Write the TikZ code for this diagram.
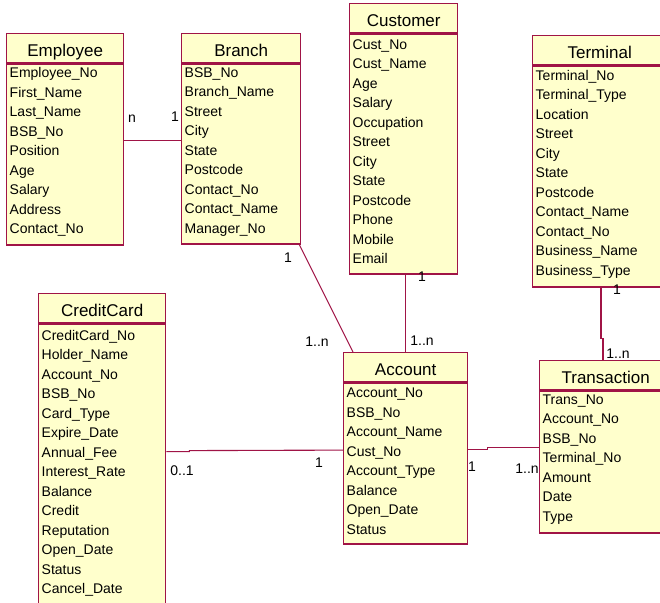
\documentclass[tikz,border=0pt]{standalone}
\usepackage{fontspec}
\setmainfont{Liberation Sans}
\usetikzlibrary{positioning}

\definecolor{umlred}{RGB}{160,20,70}
\definecolor{umlfill}{RGB}{255,255,204}

\begin{document}
\begin{tikzpicture}[x=1pt,y=-1pt,
	classhead/.style={draw=umlred, fill=umlfill, line width=1.4pt, anchor=north west,
		inner sep=0pt, minimum height=29pt, text height=16pt, text depth=0pt,
		font=\fontsize{17}{20}\selectfont},
	classattr/.style={draw=umlred, fill=umlfill, line width=1.4pt, inner xsep=3pt,
		inner ysep=0pt, align=left, font=\fontsize{14}{19.5}\selectfont,
		execute at end node={\endgraf\kern5pt}},
	assoc/.style={draw=umlred, line width=1.1pt},
	mult/.style={inner sep=0pt, font=\fontsize{14}{16}\selectfont}]

	\useasboundingbox (0,0) rectangle (660,602);

	% classes
	\node[classhead, minimum width=117pt] (employee) at (6,33) {Employee};
	\node[classattr, text width=111pt, minimum height=181pt, below=0pt of employee] (employee-attr)
		{Employee\_No\\First\_Name\\Last\_Name\\BSB\_No\\Position\\Age\\Salary\\Address\\Contact\_No};

	\node[classhead, minimum width=119pt] (branch) at (181,33) {Branch};
	\node[classattr, text width=113pt, minimum height=180pt, below=0pt of branch] (branch-attr)
		{BSB\_No\\Branch\_Name\\Street\\City\\State\\Postcode\\Contact\_No\\Contact\_Name\\Manager\_No};

	\node[classhead, minimum width=108pt] (customer) at (349,3) {Customer};
	\node[classattr, text width=102pt, minimum height=240pt, below=0pt of customer] (customer-attr)
		{Cust\_No\\Cust\_Name\\Age\\Salary\\Occupation\\Street\\City\\State\\Postcode\\Phone\\Mobile\\Email};

	\node[classhead, minimum width=134pt] (terminal) at (532,35) {Terminal};
	\node[classattr, text width=128pt, minimum height=221pt, below=0pt of terminal] (terminal-attr)
		{Terminal\_No\\Terminal\_Type\\Location\\Street\\City\\State\\Postcode\\Contact\_Name\\Contact\_No\\Business\_Name\\Business\_Type};

	\node[classhead, minimum width=127pt] (creditcard) at (38,293) {CreditCard};
	\node[classattr, text width=121pt, minimum height=283pt, below=0pt of creditcard] (creditcard-attr)
		{CreditCard\_No\\Holder\_Name\\Account\_No\\BSB\_No\\Card\_Type\\Expire\_Date\\Annual\_Fee\\Interest\_Rate\\Balance\\Credit\\Reputation\\Open\_Date\\Status\\Cancel\_Date};

	\node[classhead, minimum width=124pt] (account) at (343,352) {Account};
	\node[classattr, text width=118pt, minimum height=161pt, below=0pt of account] (account-attr)
		{Account\_No\\BSB\_No\\Account\_Name\\Cust\_No\\Account\_Type\\Balance\\Open\_Date\\Status};

	\node[classhead, minimum width=132pt] (transaction) at (539,360) {Transaction};
	\node[classattr, text width=126pt, minimum height=142pt, below=0pt of transaction] (transaction-attr)
		{Trans\_No\\Account\_No\\BSB\_No\\Terminal\_No\\Amount\\Date\\Type};

	% associations
	\draw[assoc] ([yshift=14.5pt]employee-attr.east) -- ([yshift=14.5pt]employee-attr.east -| branch-attr.west);
	\draw[assoc] ([xshift=-2pt]branch-attr.south east) -- ([xshift=10pt]account.north west);
	\draw[assoc] (account.north |- customer-attr.south) -- (account.north);
	\draw[assoc] ([xshift=69pt]terminal-attr.south west) -- ++(0,51) -- ++(2,0) -- ([xshift=64pt]transaction.north west);
	\draw[assoc] ([yshift=14pt]creditcard-attr.east) -- ++(23,0) -- ++(0,-1) -- ([yshift=13.5pt]account-attr.west);
	\draw[assoc] ([yshift=14.5pt]account-attr.east) -- ++(19,0) -- ++(0,-2) -- ([yshift=15pt]transaction-attr.west);

	% multiplicities
	\node[mult] (m-emp) at (132,119) {n};
	\node[mult] (m-branch) at (175,117) {1};
	\node[mult] (m-branch-acc) at (288,258) {1};
	\node[mult] (m-acc-branch) at (317,342) {1..n};
	\node[mult] (m-cust) at (422,277) {1};
	\node[mult] (m-acc-cust) at (422,341) {1..n};
	\node[mult] (m-term) at (617,290) {1};
	\node[mult] (m-trans-term) at (618,354) {1..n};
	\node[mult] (m-card) at (182,471) {0..1};
	\node[mult] (m-acc-card) at (319,463) {1};
	\node[mult] (m-acc-trans) at (472,467) {1};
	\node[mult] (m-trans-acc) at (527,469) {1..n};

\end{tikzpicture}
\end{document}
